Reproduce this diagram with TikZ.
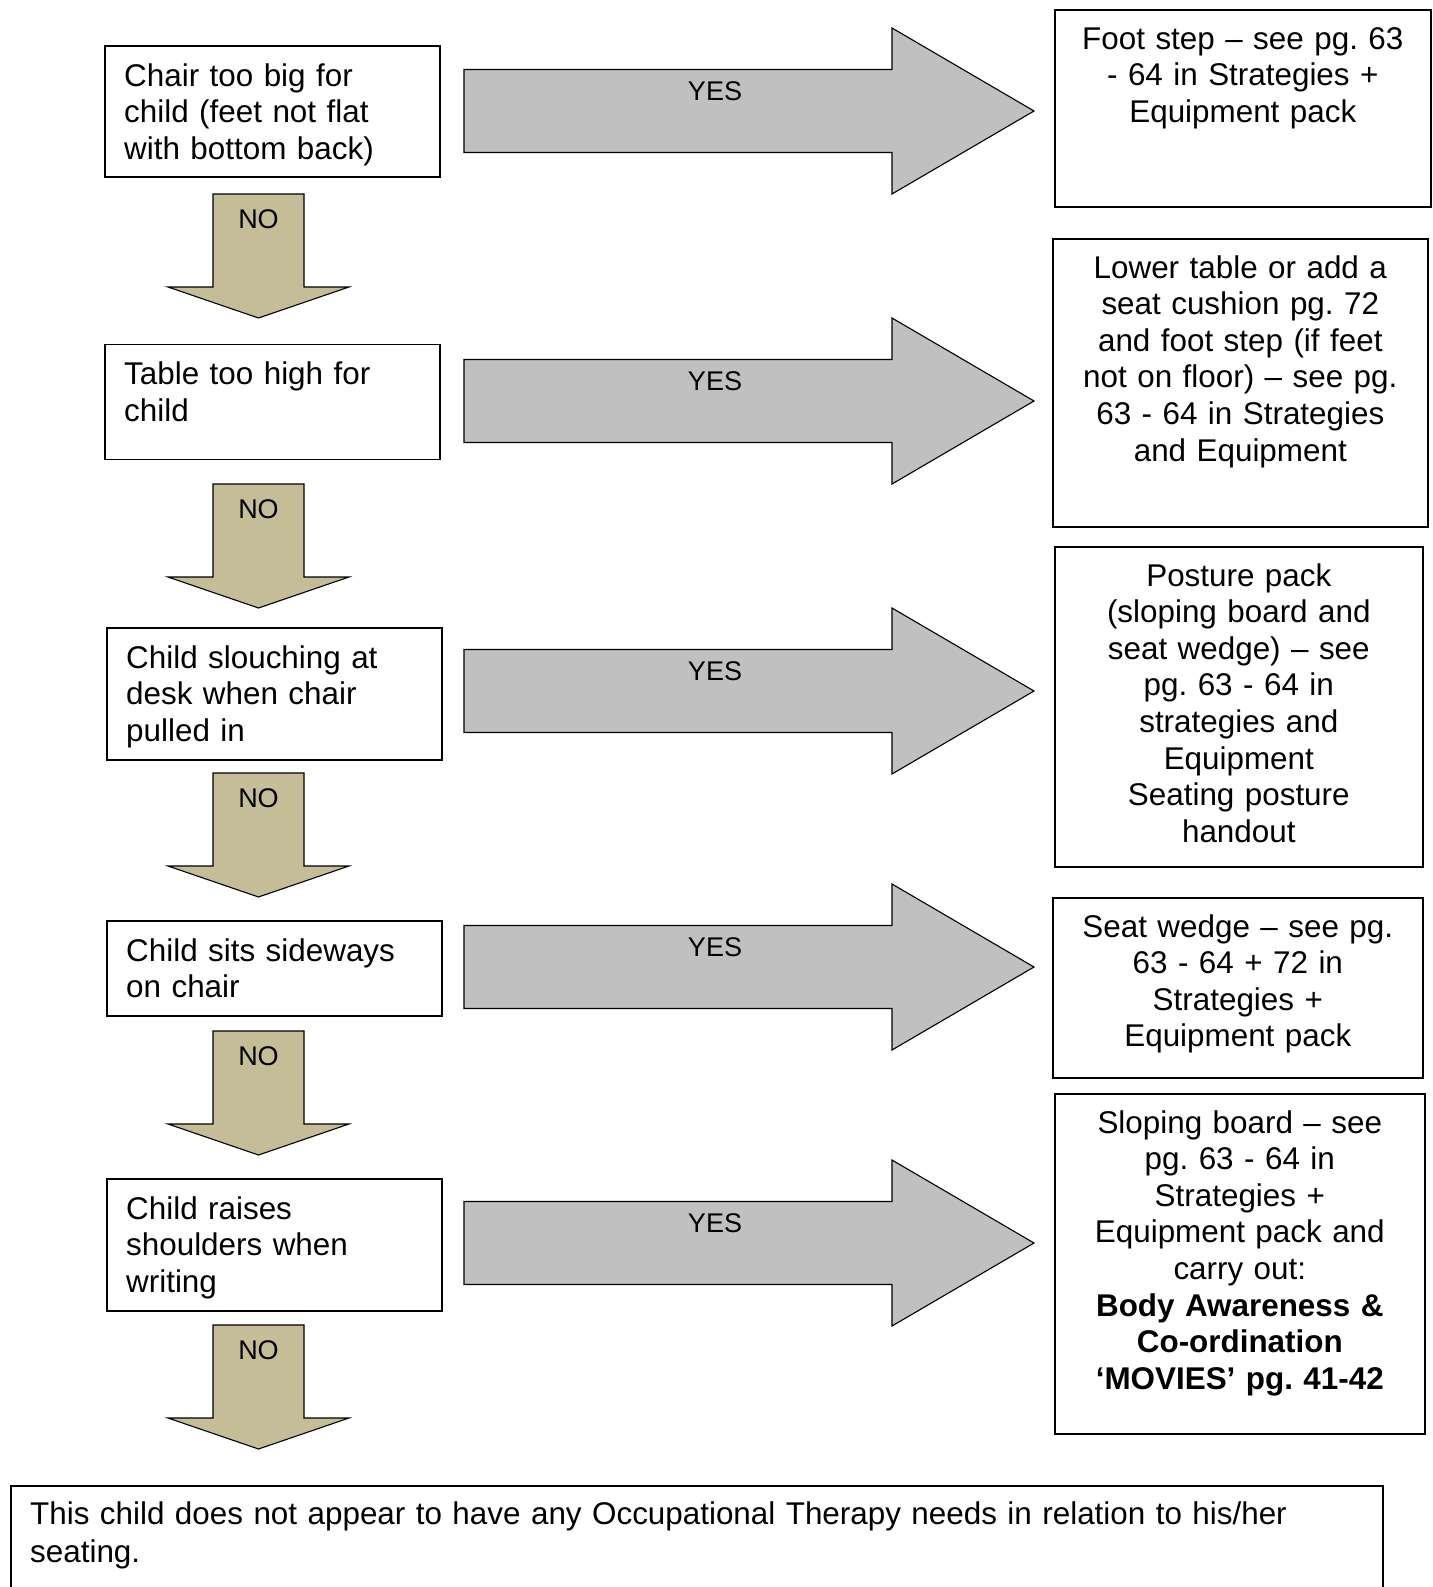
\documentclass[tikz,border=0pt]{standalone}
\usepackage{fontspec}
\setmainfont{Liberation Sans}
\usetikzlibrary{positioning}
\frenchspacing

\definecolor{yesgrey}{RGB}{192,192,192}
\definecolor{notan}{RGB}{196,189,151}

\tikzset{
  question/.style={draw, rectangle, fill=white, line width=1.6pt,
    anchor=north west, inner sep=0pt, minimum width=335pt},
  answer/.style={draw, rectangle, fill=white, line width=1.6pt,
    anchor=north west, inner sep=0pt},
  qtext/.style={anchor=base west, align=left, inner sep=0pt, text width=310pt,
    font=\fontsize{31.4}{36.6}\selectfont},
  atext/.style={anchor=base, align=center, inner sep=0pt, text width=360pt,
    font=\fontsize{31.4}{36.6}\selectfont},
  yesarrow/.style={draw, line width=1.1pt, fill=yesgrey, line join=miter},
  noarrow/.style={draw, line width=1.1pt, fill=notan, line join=miter},
  arrowtext/.style={anchor=base, inner sep=0pt, font=\fontsize{27}{30}\selectfont},
}

\begin{document}
\begin{tikzpicture}[x=1pt, y=-1pt]

	\useasboundingbox (0,0) rectangle (1432,1587);
	\clip (0,0) rectangle (1432,1587);

	% questions (left column)
	\node[question, minimum height=131pt] (Q1) at (104,45) {};
	\node[question, minimum height=115pt] (Q2) [below = 166pt of Q1.south west, anchor=north west] {};
	\node[question, minimum height=132pt] (Q3) at (106,627) {};
	\node[question, minimum height=95pt] (Q4) at (106,920) {};
	\node[question, minimum height=132pt] (Q5) at (106,1178) {};

	\node[qtext] (Q1T) at ([shift={(20,41)}]Q1.north west) {Chair too big for\\child (feet not flat\\with bottom back)};
	\node[qtext] (Q2T) at ([shift={(20,41)}]Q2.north west) {Table too high for\\child};
	\node[qtext] (Q3T) at ([shift={(20,41)}]Q3.north west) {Child slouching at\\desk when chair\\pulled in};
	\node[qtext] (Q4T) at ([shift={(20,41)}]Q4.north west) {Child sits sideways\\on chair};
	\node[qtext] (Q5T) at ([shift={(20,41)}]Q5.north west) {Child raises\\shoulders when\\writing};

	% answers (right column)
	\node[answer, minimum width=376pt, minimum height=197pt] (A1) at (1054,9) {};
	\node[answer, minimum width=375pt, minimum height=288pt] (A2) at (1052,238) {};
	\node[answer, minimum width=368pt, minimum height=320pt] (A3) at (1054,546) {};
	\node[answer, minimum width=370pt, minimum height=180pt] (A4) at (1052,897) {};
	\node[answer, minimum width=370pt, minimum height=340pt] (A5) at (1054,1093) {};

	\node[atext] (A1T) at ([shift={(0,40)}]A1.north) {Foot step – see pg. 63\\- 64 in Strategies +\\Equipment pack};
	\node[atext] (A2T) at ([shift={(0,40)}]A2.north) {Lower table or add a\\seat cushion pg. 72\\and foot step (if feet\\not on floor) – see pg.\\63 - 64 in Strategies\\and Equipment};
	\node[atext] (A3T) at ([shift={(0,40)}]A3.north) {Posture pack\\(sloping board and\\seat wedge) – see\\pg. 63 - 64 in\\strategies and\\Equipment\\Seating posture\\handout};
	\node[atext] (A4T) at ([shift={(0,40)}]A4.north) {Seat wedge – see pg.\\63 - 64 + 72 in\\Strategies +\\Equipment pack};
	\node[atext] (A5T) at ([shift={(0,40)}]A5.north) {Sloping board – see\\pg. 63 - 64 in\\Strategies +\\Equipment pack and\\carry out:\\\textbf{Body Awareness \&}\\\textbf{Co-ordination}\\\textbf{‘MOVIES’ pg. 41-42}};

	% no needs box
	\node[answer, line width=2pt, minimum width=1372pt, minimum height=140pt] (NONE) at (10,1485) {};
	\node[qtext, text width=1340pt, font=\fontsize{31.4}{38.5}\selectfont] (NONET) at ([shift={(20,39)}]NONE.north west) {This child does not appear to have any Occupational Therapy needs in relation to his/her\\seating.};

	% YES arrows
	\draw[yesarrow] (464,69.5) -- ++(428,0) -- ++(0,-41.5) -- ++(142,83) -- ++(-142,83) -- ++(0,-41.5) -- ++(-428,0) -- cycle;
	\draw[yesarrow] (464,359.5) -- ++(428,0) -- ++(0,-41.5) -- ++(142,83) -- ++(-142,83) -- ++(0,-41.5) -- ++(-428,0) -- cycle;
	\draw[yesarrow] (464,649.5) -- ++(428,0) -- ++(0,-41.5) -- ++(142,83) -- ++(-142,83) -- ++(0,-41.5) -- ++(-428,0) -- cycle;
	\draw[yesarrow] (464,925.5) -- ++(428,0) -- ++(0,-41.5) -- ++(142,83) -- ++(-142,83) -- ++(0,-41.5) -- ++(-428,0) -- cycle;
	\draw[yesarrow] (464,1201.5) -- ++(428,0) -- ++(0,-41.5) -- ++(142,83) -- ++(-142,83) -- ++(0,-41.5) -- ++(-428,0) -- cycle;

	\node[arrowtext] (YES1) at (715,100) {YES};
	\node[arrowtext] (YES2) at (715,390) {YES};
	\node[arrowtext] (YES3) at (715,680) {YES};
	\node[arrowtext] (YES4) at (715,956) {YES};
	\node[arrowtext] (YES5) at (715,1232) {YES};

	% NO arrows
	\draw[noarrow] (213,194) -- ++(91,0) -- ++(0,93) -- ++(45,0) -- ++(-90.5,31) -- ++(-90.5,-31) -- ++(45,0) -- cycle;
	\draw[noarrow] (213,484) -- ++(91,0) -- ++(0,93) -- ++(45,0) -- ++(-90.5,31) -- ++(-90.5,-31) -- ++(45,0) -- cycle;
	\draw[noarrow] (213,773) -- ++(91,0) -- ++(0,93) -- ++(45,0) -- ++(-90.5,31) -- ++(-90.5,-31) -- ++(45,0) -- cycle;
	\draw[noarrow] (213,1031) -- ++(91,0) -- ++(0,93) -- ++(45,0) -- ++(-90.5,31) -- ++(-90.5,-31) -- ++(45,0) -- cycle;
	\draw[noarrow] (213,1325) -- ++(91,0) -- ++(0,93) -- ++(45,0) -- ++(-90.5,31) -- ++(-90.5,-31) -- ++(45,0) -- cycle;

	\node[arrowtext] (NO1) at (258.5,228) {NO};
	\node[arrowtext] (NO2) at (258.5,518) {NO};
	\node[arrowtext] (NO3) at (258.5,807) {NO};
	\node[arrowtext] (NO4) at (258.5,1065) {NO};
	\node[arrowtext] (NO5) at (258.5,1359) {NO};

\end{tikzpicture}
\end{document}
